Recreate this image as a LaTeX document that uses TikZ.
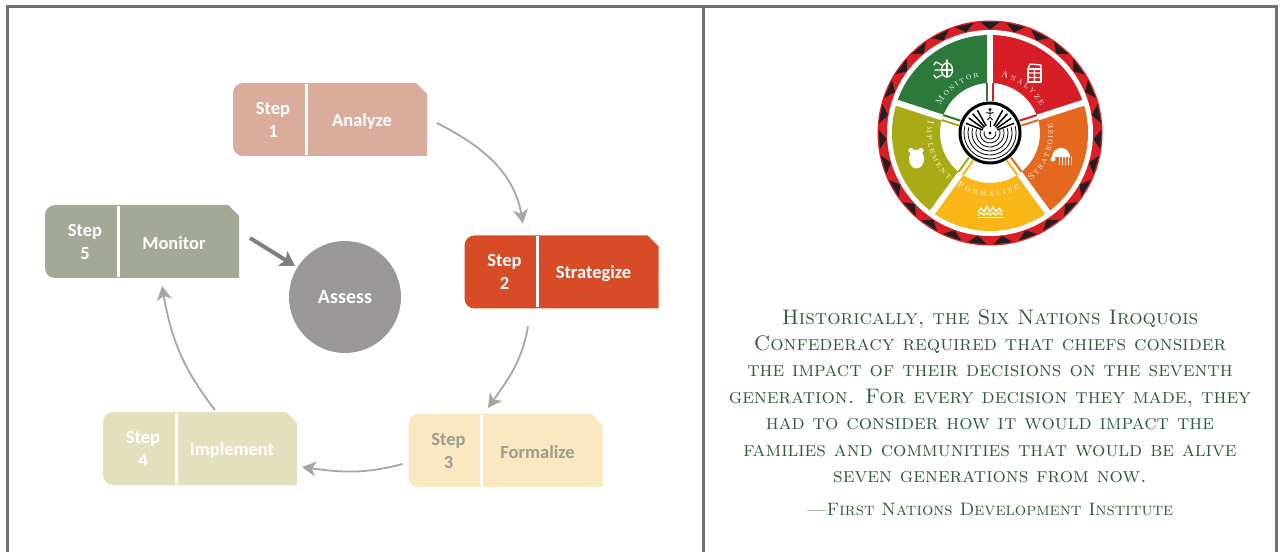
\documentclass[tikz,border=0pt]{standalone}
\usepackage{fontspec}
\newfontfamily\carlito{Carlito}
\usetikzlibrary{arrows.meta,decorations.text}
\definecolor{framegray}{HTML}{707070}
\definecolor{sonefill}{HTML}{D9AC9C}
\definecolor{stwofill}{HTML}{D74B27}
\definecolor{sthreefill}{HTML}{FAE8C1}
\definecolor{sthreetext}{HTML}{9E9A92}
\definecolor{sfourfill}{HTML}{E3E1BD}
\definecolor{sfivefill}{HTML}{A3A897}
\definecolor{assessgray}{HTML}{999797}
\definecolor{arrowgray}{HTML}{A6A6A6}
\definecolor{darkarrow}{HTML}{808080}
\definecolor{wgreen}{HTML}{2B7A3B}
\definecolor{wred}{HTML}{D71E27}
\definecolor{worange}{HTML}{E4691F}
\definecolor{wyellow}{HTML}{F8B617}
\definecolor{wolive}{HTML}{A8AA16}
\definecolor{ringred}{HTML}{D81F26}
\definecolor{ringblack}{HTML}{231F20}
\definecolor{quotegreen}{HTML}{2E5B37}
\tikzset{
  boxnode/.style={rectangle, draw=none, minimum width=194pt, minimum height=73pt, inner sep=0pt, outer sep=0pt},
  steptext/.style={align=center, inner sep=0pt, font={\carlito\bfseries\fontsize{18.5}{23}\selectfont}},
  labeltext/.style={inner sep=0pt, font={\carlito\bfseries\fontsize{18.5}{23}\selectfont}},
  flow/.style={draw=arrowgray, line width=1.8pt, -{Stealth[length=14pt,width=15pt,inset=4pt]}},
  thickflow/.style={draw=darkarrow, line width=4pt, -{Stealth[length=14pt,width=17pt,inset=3pt]}},
  quote/.style={align=center, inner sep=0pt, text=quotegreen, font={\fontsize{21}{26.4}\selectfont\scshape}},
  wheeltext/.style={decorate, decoration={text along path, text align={fit to path}, text color=white, text={|\fontsize{9}{9}\selectfont\scshape|#1}}},
  icon/.style={white, line width=1.3pt, line cap=round, line join=round}
}
\newcommand\makestep[6]{%
  \node[boxnode] (#1) at (#2) {};
  \fill[#3] (#1.south east) -- ([xshift=10pt]#1.south west)
    arc[start angle=270,end angle=180,radius=10pt] -- ([yshift=-10pt]#1.north west)
    arc[start angle=180,end angle=90,radius=10pt] -- ([xshift=-11pt]#1.north east)
    -- ([yshift=-11pt]#1.north east) -- cycle;
  \draw[white, line width=3pt] ([xshift=73pt,yshift=-1pt]#1.north west) -- ([xshift=73pt,yshift=1pt]#1.south west);
  \node[steptext, text=#4] (#1n) at ([xshift=40pt]#1.west) {Step\\#5};
  \node[labeltext, text=#4] (#1l) at ([xshift=129pt,yshift=-2pt]#1.west) {#6};
}
\newcommand\wheelseg[3]{%
  \fill[#1] (#2:50) arc[start angle=#2,end angle=#3,radius=50] -- (#3:98)
    arc[start angle=#3,end angle=#2,radius=98] -- cycle;
}
\begin{document}
\begin{tikzpicture}[x=1pt,y=1pt]
\useasboundingbox (0,0) rectangle (1282,552);
\fill[white] (0,0) rectangle (1282,552);
% frame
\draw[framegray, line width=3pt] (7.3,0) -- (7.3,545.3) -- (1276.3,545.3) -- (1276.3,0);
\draw[framegray, line width=3pt] (703.3,0) -- (703.3,545.3);

% ---------- left panel ----------
\makestep{s1}{330,432.5}{sonefill}{white}{1}{Analyze}
\makestep{s2}{561.5,280}{stwofill}{white}{2}{Strategize}
\makestep{s3}{505.5,101.5}{sthreefill}{sthreetext}{3}{Formalize}
\makestep{s4}{200,103.5}{sfourfill}{white}{4}{Implement}
\makestep{s5}{142,310.5}{sfivefill}{white}{5}{Monitor}
\node[circle, fill=assessgray, minimum size=112pt, inner sep=0pt, outer sep=3pt, text=white,
  font={\carlito\bfseries\fontsize{20}{24}\selectfont}] (A) at (345,255) {Assess};

\draw[flow] ([xshift=10pt,yshift=-3.5pt]s1.east) to[out=-27,in=100] ([xshift=-38.5pt,yshift=12pt]s2.north);
\draw[flow] ([xshift=-33.5pt,yshift=-18pt]s2.south) to[out=-100,in=55] ([xshift=-17.5pt,yshift=6pt]s3.north);
\draw[flow] ([xshift=-6pt,yshift=-13.5pt]s3.west) to[out=195,in=-8] ([xshift=5pt,yshift=-18.5pt]s4.east);
\draw[flow] ([xshift=15pt,yshift=2pt]s4.north) to[out=128,in=-80] ([xshift=20pt,yshift=-8pt]s5.south);
\draw[thickflow] ([xshift=11pt,yshift=3.5pt]s5.east) -- (A);

% ---------- wheel ----------
\begin{scope}[shift={(990,419)}]
  \fill[ringred] (0,0) circle (112.5);
  \fill[white] (0,0) circle (103);
  \foreach \i in {0,...,26} {
    \pgfmathsetmacro\a{90+13.3333*\i}
    \fill[ringblack] ({\a-5}:111.4) -- (\a:103.5) -- ({\a+5}:111.4) -- cycle;
  }
  \wheelseg{wred}{18}{90}
  \wheelseg{worange}{-54}{18}
  \wheelseg{wyellow}{-126}{-54}
  \wheelseg{wolive}{162}{234}
  \wheelseg{wgreen}{90}{162}
  \foreach \a in {90,18,-54,-126,162} \draw[white, line width=6pt] (\a:44) -- (\a:100);
  \foreach \a/\ca/\cb in {90/wgreen/wred, 18/wred/worange, -54/worange/wyellow, -126/wyellow/wolive, 162/wolive/wgreen} {
    \draw[\ca, line width=2pt] ([shift={({\a+90}:2.6)}]\a:32) -- ([shift={({\a+90}:2.6)}]\a:50);
    \draw[\cb, line width=2pt] ([shift={({\a-90}:2.6)}]\a:32) -- ([shift={({\a-90}:2.6)}]\a:50);
  }
  % centre maze
  \draw[black, line width=3pt, fill=white] (0,0) circle (30);
  \foreach \r in {6,10,14,18,22,26} \draw[black, line width=0.8pt] (165:\r) arc[start angle=165,end angle=375,radius=\r];
  \foreach \a in {22,35,48,61,119,132,145,158} \draw[black, line width=1.5pt] (\a:8) -- (\a:26);
  \draw[black, line width=0.8pt] (90:6) -- (90:12);
  \fill[black] (0,0) circle (1.6);
  \fill[black] (0,23.5) circle (1.6);
  \draw[black, line width=0.9pt] (0,22) -- (0,16) (-3.5,20.5) -- (0,19.5) -- (3.5,20.5) (-2.5,13) -- (0,16) -- (2.5,13);
  % curved labels
  \path[wheeltext=Monitor] (151:57) arc[start angle=151,end angle=101,radius=57];
  \path[wheeltext=Analyze] (79:57) arc[start angle=79,end angle=28,radius=57];
  \path[wheeltext=Strategize] (-49:63) arc[start angle=-49,end angle=9,radius=63];
  \path[wheeltext=Formalize] (-122:63) arc[start angle=-122,end angle=-62,radius=63];
  \path[wheeltext=Implement] (169:63) arc[start angle=169,end angle=229,radius=63];
  % icons
  \draw[icon] (-43,63) ellipse (5.5 and 7);
  \draw[icon] (-43,56) -- (-43,70) (-48.5,63) -- (-37.5,63) (-43,70) -- (-43,73);
  \draw[icon] (-48,68) -- (-54,71) -- (-56,68) (-48,58) -- (-54,55) -- (-56,58) (-48.5,63) -- (-55,63);
  \draw[icon] (38,51) rectangle (51,64);
  \draw[icon] (38,55.5) -- (51,55.5) (38,60) -- (51,60) (44.5,51) -- (44.5,64) (38,64) -- (40,69) -- (51,68) -- (51,64);
  \fill[white] (62,-24) arc[start angle=180,end angle=0,radius=9] -- cycle;
  \fill[white] (63,-26) circle (2.5);
  \foreach \x in {69,72,75,78,81} \draw[icon, line width=1pt] (\x,-24) -- (\x,-32);
  \draw[icon] (-12,-79) -- (-9,-75) -- (-6,-79) -- (-3,-73) -- (0,-79) -- (3,-74) -- (6,-79) -- (9,-75) -- (12,-79);
  \draw[icon] (-12,-82) -- (-9,-80) -- (-6,-82) -- (-3,-80) -- (0,-82) -- (3,-80) -- (6,-82) -- (9,-80) -- (12,-82);
  \fill[white] (-12.5,-85.5) rectangle (12.5,-83.8);
  \fill[white] (-73.5,-26) ellipse (7.5 and 9.5);
  \fill[white] (-79,-17.5) circle (2.6) (-69,-17.5) circle (2.6);
\end{scope}

% ---------- quote ----------
\node[quote] (q) at (990,156) {Historically, the Six Nations Iroquois\\
Confederacy required that chiefs consider\\
the impact of their decisions on the seventh\\
generation. For every decision they made, they\\
had to consider how it would impact the\\
families and communities that would be alive\\
seven generations from now.};
\node[inner sep=0pt, text=quotegreen, font={\fontsize{18}{18}\selectfont\scshape}] (src) at (990,43) {—First Nations Development Institute};
\end{tikzpicture}
\end{document}
